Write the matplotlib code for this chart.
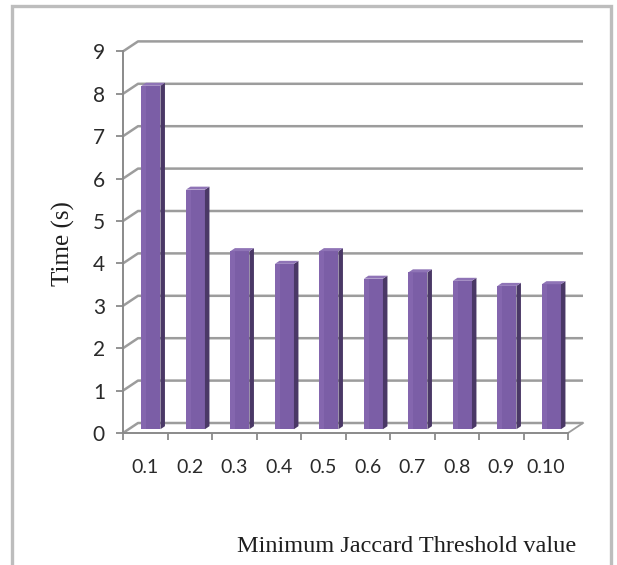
import matplotlib
matplotlib.use('Agg')
import matplotlib.pyplot as plt
from matplotlib.patches import Polygon, Rectangle

# threshold values and measured run time
thresholds = ['0.1', '0.2', '0.3', '0.4', '0.5', '0.6', '0.7', '0.8', '0.9', '0.10']
times = [8.1, 5.65, 4.2, 3.9, 4.2, 3.55, 3.7, 3.5, 3.38, 3.42]
yticks = [0, 1, 2, 3, 4, 5, 6, 7, 8, 9]

W, H = 617, 565
fig = plt.figure(figsize=(W / 100, H / 100), dpi=100)
fig.patch.set_facecolor('white')

# outer chart border
fig.patches.append(Rectangle((12 / W, -0.05), 599 / W, 1.05 - 6 / H, transform=fig.transFigure,
                             fill=False, edgecolor='#bdbdbd', linewidth=2.4))

px_x, px_y = 44.5, 42.4          # pixels per category / per unit
left_px, zero_px = 123, 433
xmax, ymax = 10.5, 9.5
ax = fig.add_axes([left_px / W, (H - zero_px) / H, xmax * px_x / W, ymax * px_y / H])
ax.set_xlim(0, xmax)
ax.set_ylim(0, ymax)
ax.set_facecolor('none')

n = len(thresholds)
dx, dy = 15 / px_x, 10 / px_y     # depth of the 3d box
grid_c = '#9c9c9c'

# back wall gridlines with the diagonal links to the front axis
for v in yticks:
    ax.plot([0, dx, n + dx], [v, v + dy, v + dy], color=grid_c, lw=1.8, zorder=1,
            solid_capstyle='butt', clip_on=False)
ax.plot([n, n + dx], [0, dy], color=grid_c, lw=1.3, zorder=1, clip_on=False)

# bars with side and top faces
f = 0.38
w = 19 / px_x
bd_x, bd_y = 4.5 / px_x, 3 / px_y
front_c, side_c, top_c = '#7b5ea6', '#4a3866', '#8f74b6'
xs = [i + 0.5 + f * dx for i in range(n)]
ax.bar(xs, times, width=w, bottom=f * dy, color=front_c, zorder=3, linewidth=0)
for x, v in zip(xs, times):
    xl, xr = x - w / 2, x + w / 2
    b, t = f * dy, v + f * dy
    ax.add_patch(Polygon([(xr, b), (xr + bd_x, b + bd_y), (xr + bd_x, t + bd_y), (xr, t)],
                         closed=True, facecolor=side_c, edgecolor='none', zorder=3))
    ax.add_patch(Polygon([(xl, t), (xr, t), (xr + bd_x, t + bd_y), (xl + bd_x, t + bd_y)],
                         closed=True, facecolor=top_c, edgecolor='none', zorder=3))
    # slightly lighter strip on the left of the front face
    ax.add_patch(Rectangle((xl, b), w * 0.25, v, facecolor='#8466ae', edgecolor='none', zorder=3))

# front axes
for s in ['top', 'right']:
    ax.spines[s].set_visible(False)
ax.spines['left'].set_bounds(0, 9)
ax.spines['bottom'].set_bounds(0, n)
for s in ['left', 'bottom']:
    ax.spines[s].set_color('#8a8a8a')
    ax.spines[s].set_linewidth(1.4)
    ax.spines[s].set_zorder(4)

ax.set_yticks(yticks)
ax.set_yticklabels([str(v) for v in yticks], fontfamily='Lato', fontsize=15, color='#2a2a2a')
ax.tick_params(axis='y', length=5, width=1.3, color='#8a8a8a', pad=8)

ax.set_xticks([i + 0.5 for i in range(n)])
ax.set_xticklabels(thresholds, fontfamily='Lato', fontsize=14, color='#2a2a2a')
ax.set_xticks(range(n + 1), minor=True)
ax.tick_params(axis='x', which='major', length=0, pad=19)
ax.tick_params(axis='x', which='minor', length=5, width=1.3, color='#8a8a8a')

fig.text(63 / W, 1 - 244 / H, 'Time (s)', rotation=90, ha='center', va='center',
         fontfamily='Liberation Serif', fontsize=18, color='#1e1e1e')
fig.text(407 / W, 1 - 546 / H, 'Minimum Jaccard Threshold value', ha='center', va='center',
         fontfamily='Liberation Serif', fontsize=17.5, color='#1e1e1e')

fig.savefig('out.png', dpi=100, facecolor='white')
